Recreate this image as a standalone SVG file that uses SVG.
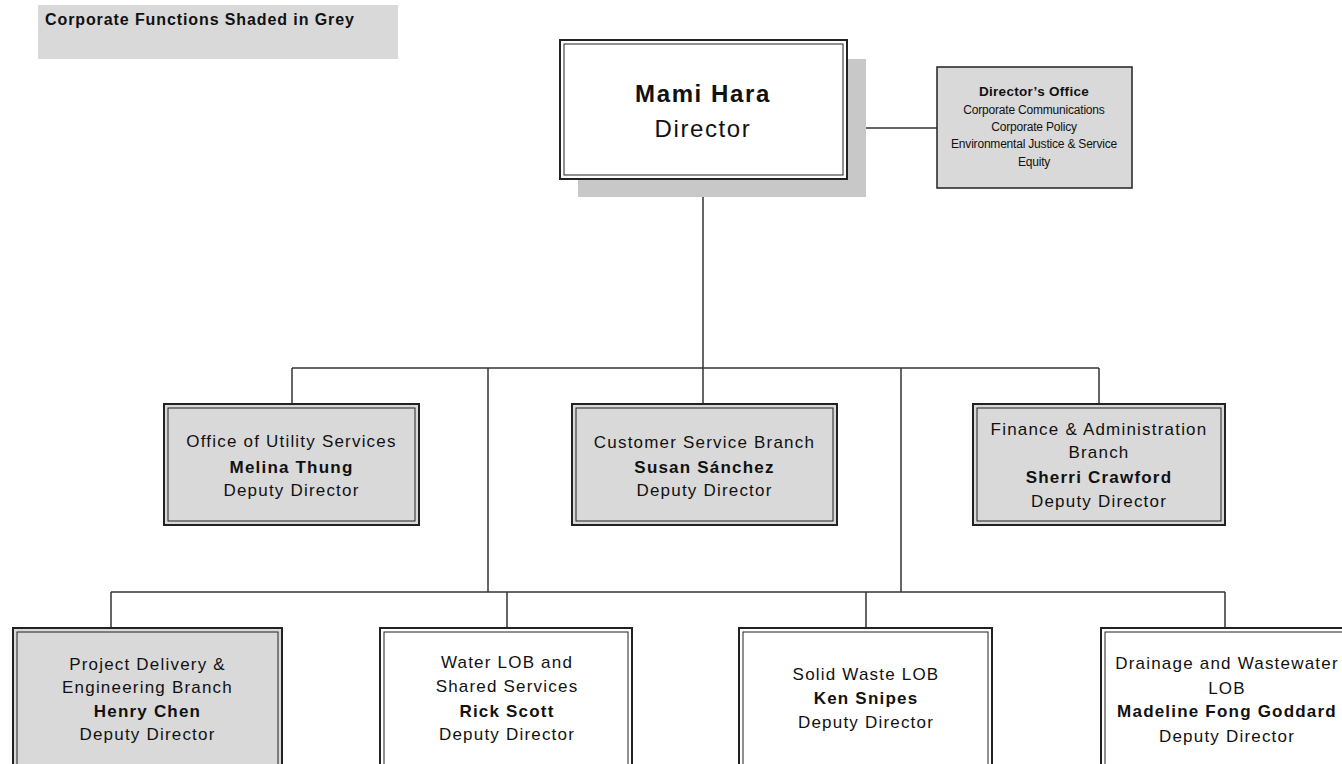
<svg xmlns="http://www.w3.org/2000/svg" width="1342" height="764" viewBox="0 0 1342 764">
<style>
.t{font-family:"Liberation Sans",Arial,sans-serif;font-size:17px;letter-spacing:1.2px;fill:#111;text-anchor:middle}
.b{font-weight:bold}
.big{font-size:24px;letter-spacing:1.6px}
.sm{font-size:12px;letter-spacing:-0.2px}
.hd{font-size:13.5px;font-weight:bold;letter-spacing:0.3px}
.legend{font-family:"Liberation Sans",Arial,sans-serif;font-size:16px;font-weight:bold;letter-spacing:0.9px;fill:#111}
.grey{fill:#d9d9d9}
.white{fill:#fff}
.outer{stroke:#222;stroke-width:2}
.inner{fill:none;stroke:#222;stroke-width:1}
.single{stroke:#222;stroke-width:1.5}
#connectors line{stroke:#333;stroke-width:1.5}
</style>

<g id="legend">
<rect x="38" y="5" width="360" height="54" class="grey"/>
<text x="45" y="25" class="legend">Corporate Functions Shaded in Grey</text>
</g>

<g id="connectors">
<line x1="703" y1="179" x2="703" y2="404"/>
<line x1="855" y1="128" x2="937" y2="128"/>
<line x1="292" y1="368" x2="1099" y2="368"/>
<line x1="292" y1="368" x2="292" y2="404"/>
<line x1="1099" y1="368" x2="1099" y2="404"/>
<line x1="488" y1="368" x2="488" y2="592"/>
<line x1="901" y1="368" x2="901" y2="592"/>
<line x1="111" y1="592" x2="1225" y2="592"/>
<line x1="111" y1="592" x2="111" y2="628"/>
<line x1="507" y1="592" x2="507" y2="628"/>
<line x1="866" y1="592" x2="866" y2="628"/>
<line x1="1225" y1="592" x2="1225" y2="628"/>
</g>

<g id="director">
<rect x="578" y="59" width="288" height="138" fill="#c8c8c8"/>
<rect x="560" y="40" width="287" height="139" class="white outer"/>
<rect x="564" y="44" width="279" height="131" class="inner"/>
<text x="703" y="102" class="t b big">Mami Hara</text>
<text x="703" y="137" class="t big">Director</text>
</g>

<g id="directors-office">
<rect x="937" y="67" width="195" height="121" class="grey single"/>
<text x="1034" y="96" class="t hd">Director’s Office</text>
<text x="1034" y="114" class="t sm">Corporate Communications</text>
<text x="1034" y="131" class="t sm">Corporate Policy</text>
<text x="1034" y="148" class="t sm">Environmental Justice &amp; Service</text>
<text x="1034" y="166" class="t sm">Equity</text>
</g>

<g id="utility-services">
<rect x="164" y="404" width="255" height="121" class="grey outer"/>
<rect x="168" y="408" width="247" height="113" class="inner"/>
<text x="291.5" y="447" class="t">Office of Utility Services</text>
<text x="291.5" y="473" class="t b">Melina Thung</text>
<text x="291.5" y="496" class="t">Deputy Director</text>
</g>

<g id="customer-service">
<rect x="572" y="404" width="265" height="121" class="grey outer"/>
<rect x="576" y="408" width="257" height="113" class="inner"/>
<text x="704.5" y="448" class="t">Customer Service Branch</text>
<text x="704.5" y="473" class="t b">Susan Sánchez</text>
<text x="704.5" y="496" class="t">Deputy Director</text>
</g>

<g id="finance">
<rect x="973" y="404" width="252" height="121" class="grey outer"/>
<rect x="977" y="408" width="244" height="113" class="inner"/>
<text x="1099" y="435" class="t">Finance &amp; Administration</text>
<text x="1099" y="458" class="t">Branch</text>
<text x="1099" y="483" class="t b">Sherri Crawford</text>
<text x="1099" y="507" class="t">Deputy Director</text>
</g>

<g id="project-delivery">
<rect x="13" y="628" width="269" height="150" class="grey outer"/>
<rect x="17" y="632" width="261" height="142" class="inner"/>
<text x="147.5" y="670" class="t">Project Delivery &amp;</text>
<text x="147.5" y="693" class="t">Engineering Branch</text>
<text x="147.5" y="717" class="t b">Henry Chen</text>
<text x="147.5" y="740" class="t">Deputy Director</text>
</g>

<g id="water">
<rect x="380" y="628" width="252" height="150" class="white outer"/>
<rect x="384" y="632" width="244" height="142" class="inner"/>
<text x="507" y="668" class="t">Water LOB and</text>
<text x="507" y="692" class="t">Shared Services</text>
<text x="507" y="717" class="t b">Rick Scott</text>
<text x="507" y="740" class="t">Deputy Director</text>
</g>

<g id="solid-waste">
<rect x="739" y="628" width="253" height="150" class="white outer"/>
<rect x="743" y="632" width="245" height="142" class="inner"/>
<text x="866" y="680" class="t">Solid Waste LOB</text>
<text x="866" y="704" class="t b">Ken Snipes</text>
<text x="866" y="728" class="t">Deputy Director</text>
</g>

<g id="drainage">
<rect x="1101" y="628" width="252" height="150" class="white outer"/>
<rect x="1105" y="632" width="244" height="142" class="inner"/>
<text x="1227" y="669" class="t">Drainage and Wastewater</text>
<text x="1227" y="694" class="t">LOB</text>
<text x="1227" y="717" class="t b">Madeline Fong Goddard</text>
<text x="1227" y="742" class="t">Deputy Director</text>
</g>
</svg>
